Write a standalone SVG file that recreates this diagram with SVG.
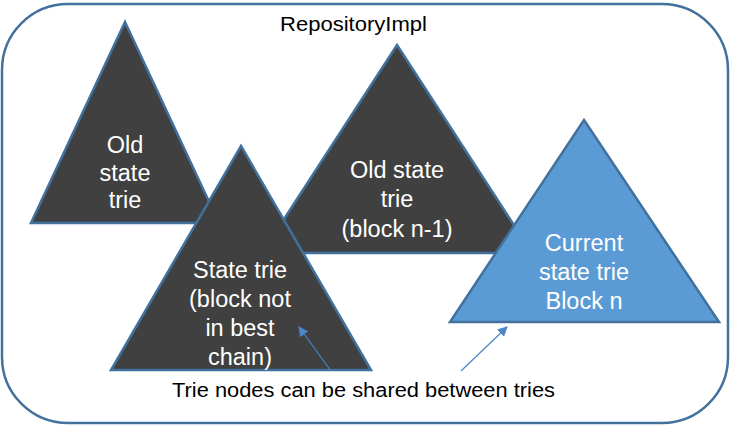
<svg xmlns="http://www.w3.org/2000/svg" width="731" height="426" viewBox="0 0 731 426">
<style>
.frame{fill:#ffffff;stroke:#41719c;stroke-width:2.5}
.dark{fill:#404040;stroke:#41719c;stroke-width:2.5;stroke-linejoin:miter}
.blue{fill:#5b9bd5;stroke:#41719c;stroke-width:2.5}
.wt{font-family:"Liberation Sans",Arial,sans-serif;font-size:23.5px;fill:#ffffff;text-anchor:middle}
.bt{font-family:"Liberation Sans",Arial,sans-serif;font-size:20px;fill:#000000}
.conn{stroke:#4a86c8;stroke-width:1.2;fill:none;marker-end:url(#ah)}
</style>
<defs>
<marker id="ah" viewBox="0 0 10 10" refX="9" refY="5" markerWidth="10" markerHeight="10" markerUnits="userSpaceOnUse" orient="auto">
<path d="M0,0 L10,5 L0,10 z" fill="#4a86c8"/>
</marker>
</defs>
<g id="repository">
<rect class="frame" x="2" y="4" width="726" height="419" rx="66" ry="66"/>
<text class="bt" x="280" y="31" textLength="147" lengthAdjust="spacingAndGlyphs">RepositoryImpl</text>
</g>
<g id="old-state-trie">
<polygon class="dark" points="125,22 219,223 31,223"/>
<text class="wt" x="125" y="153">Old</text>
<text class="wt" x="125" y="181">state</text>
<text class="wt" x="125" y="208">trie</text>
</g>
<g id="old-state-trie-n1">
<polygon class="dark" points="397,45 532,253 262,253"/>
<text class="wt" x="397" y="178">Old state</text>
<text class="wt" x="397" y="207">trie</text>
<text class="wt" x="397" y="237">(block n-1)</text>
</g>
<g id="state-trie-not-best">
<polygon class="dark" points="241,146 371,370 111,370"/>
<text class="wt" x="240" y="278">State trie</text>
<text class="wt" x="240" y="307">(block not</text>
<text class="wt" x="240" y="336">in best</text>
<text class="wt" x="240" y="365">chain)</text>
</g>
<g id="current-state-trie">
<polygon class="blue" points="584,120 719,322 450,322"/>
<text class="wt" x="584" y="251">Current</text>
<text class="wt" x="584" y="280">state trie</text>
<text class="wt" x="584" y="309">Block n</text>
</g>
<g id="shared-label">
<text class="bt" x="172" y="397" textLength="383" lengthAdjust="spacingAndGlyphs">Trie nodes can be shared between tries</text>
</g>
<g id="connectors">
<line class="conn" x1="331" y1="371" x2="299" y2="327"/>
<line class="conn" x1="461" y1="371" x2="507" y2="327"/>
</g>
</svg>
